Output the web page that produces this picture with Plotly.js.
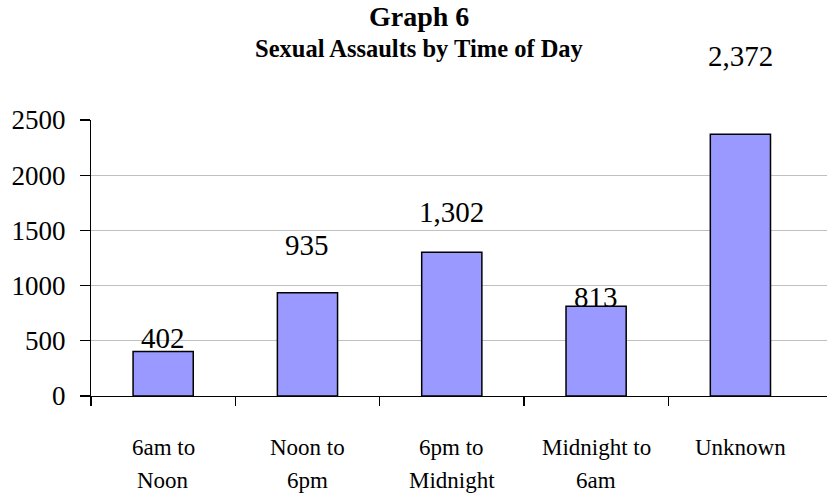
<!DOCTYPE html>
<html>
<head>
<meta charset="utf-8">
<script src="https://cdn.plot.ly/plotly-3.0.1.min.js"></script>
<style>html,body{margin:0;padding:0;background:#fff;}</style>
</head>
<body>
<div id="chart" style="width:827px;height:497px;"></div>
<script>
const titleLines = ["Graph 6", "Sexual Assaults by Time of Day"];
const categories = ["6am to Noon", "Noon to 6pm", "6pm to Midnight", "Midnight to 6am", "Unknown"];
const labelLine1 = ["6am to", "Noon to", "6pm to", "Midnight to", "Unknown"];
const labelLine2 = ["Noon", "6pm", "Midnight", "6am", ""];
const values = [402, 935, 1302, 813, 2372];
const valueLabels = ["402", "935", "1,302", "813", "2,372"];
const labelShift = [14, 48, 40, 9, 78];
const yTicks = [0, 500, 1000, 1500, 2000, 2500];

const font = "Liberation Serif";
const xRange = [-0.5, 4.6];

const annotations = [];
categories.forEach((c, i) => {
  annotations.push({x: c, y: values[i], xref: 'x', yref: 'y', text: valueLabels[i],
    showarrow: false, yanchor: 'middle', yshift: labelShift[i],
    font: {family: font, size: 29, color: '#000'}});
  annotations.push({x: c, y: 0, xref: 'x', yref: 'paper', text: labelLine1[i],
    showarrow: false, yanchor: 'middle', yshift: -51,
    font: {family: font, size: 23, color: '#000'}});
  if (labelLine2[i]) annotations.push({x: c, y: 0, xref: 'x', yref: 'paper', text: labelLine2[i],
    showarrow: false, yanchor: 'middle', yshift: -84,
    font: {family: font, size: 23, color: '#000'}});
});
annotations.push({x: 0.446, y: 1, xref: 'paper', yref: 'paper', text: '<b>' + titleLines[0] + '</b>',
  showarrow: false, xanchor: 'center', yanchor: 'middle', yshift: 104,
  font: {family: font, size: 28, color: '#000'}});
annotations.push({x: 0.446, y: 1, xref: 'paper', yref: 'paper', text: '<b>' + titleLines[1] + '</b>',
  showarrow: false, xanchor: 'center', yanchor: 'middle', yshift: 72,
  font: {family: font, size: 24.5, color: '#000'}});

const data = [
  {
    type: 'bar', x: categories, y: values,
    marker: {color: '#9999ff', line: {color: '#000', width: 1.5}},
    hoverinfo: 'none'
  },
  {type: 'scatter', x: [], y: [], xaxis: 'x2', yaxis: 'y', mode: 'markers', hoverinfo: 'none', showlegend: false}
];

const layout = {
  width: 827, height: 497,
  margin: {l: 91, r: 0, t: 120, b: 101},
  paper_bgcolor: '#fff', plot_bgcolor: '#fff',
  showlegend: false,
  bargap: 0.583,
  xaxis: {
    type: 'category', range: xRange,
    showticklabels: false, ticks: '',
    showline: true, linecolor: '#000', linewidth: 1.2,
    showgrid: false, zeroline: false, fixedrange: true
  },
  xaxis2: {
    overlaying: 'x', anchor: 'y', side: 'bottom', range: xRange,
    tickvals: categories.map((_, i) => i - 0.5), showticklabels: false,
    ticks: 'outside', ticklen: 9, tickcolor: '#000', tickwidth: 1.2,
    showline: false, showgrid: false, zeroline: false, fixedrange: true
  },
  yaxis: {
    range: [0, 2500], tickvals: yTicks,
    ticktext: yTicks.map(String),
    ticks: 'outside', ticklen: 10, tickcolor: '#000', tickwidth: 1.2,
    showline: true, linecolor: '#000', linewidth: 1.2,
    showgrid: true, gridcolor: '#c0c0c0', gridwidth: 1.2,
    zeroline: false, ticklabelstandoff: 9,
    tickfont: {family: font, size: 27, color: '#000'}, fixedrange: true
  },
  annotations: annotations
};

Plotly.newPlot('chart', data, layout, {displayModeBar: false, staticPlot: true});
</script>
</body>
</html>
